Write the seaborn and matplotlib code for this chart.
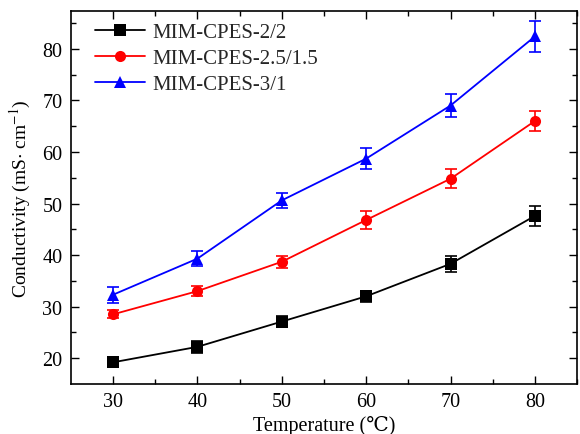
import matplotlib
matplotlib.use("Agg")
import matplotlib.pyplot as plt
import seaborn as sns
import pandas as pd

temps = [30, 40, 50, 60, 70, 80]
names = ["MIM-CPES-2/2", "MIM-CPES-2.5/1.5", "MIM-CPES-3/1"]
cond_22 = [19.2, 22.2, 27.1, 32.0, 38.3, 47.6]
err_22 = [1.0, 1.2, 1.1, 1.1, 1.6, 2.0]
cond_2515 = [28.5, 33.0, 38.7, 46.8, 54.8, 66.0]
err_2515 = [0.8, 1.0, 1.2, 1.8, 1.8, 2.0]
cond_31 = [32.3, 39.3, 50.6, 58.7, 69.0, 82.4]
err_31 = [1.5, 1.5, 1.5, 2.0, 2.2, 3.0]

colors = ["black", "red", "blue"]
markers = ["s", "o", "^"]

sns.set_style("ticks")
plt.rcParams["font.family"] = ["Liberation Serif", "DejaVu Serif"]
plt.rcParams["mathtext.fontset"] = "stix"

fig = plt.figure(figsize=(5.8, 4.35), dpi=100)
ax = fig.add_axes([0.122, 0.115, 0.873, 0.857])

rows = []
for n, vals in zip(names, [cond_22, cond_2515, cond_31]):
    for t, v in zip(temps, vals):
        rows.append({"T": t, "C": v, "S": n})
df = pd.DataFrame(rows)

sns.lineplot(data=df, x="T", y="C", hue="S", style="S", palette=colors,
             markers=markers, dashes=False, markersize=8, markeredgewidth=0,
             linewidth=1.3, ax=ax)

for vals, errs, c in zip([cond_22, cond_2515, cond_31], [err_22, err_2515, err_31], colors):
    ax.errorbar(temps, vals, yerr=errs, fmt="none", ecolor=c, elinewidth=1.2,
                capsize=4, capthick=1.2)

ax.set_xlim(25, 85)
ax.set_ylim(15, 87.3)
ax.set_xticks([30, 40, 50, 60, 70, 80])
ax.set_xticks([35, 45, 55, 65, 75, 85], minor=True)
ax.set_yticks([20, 30, 40, 50, 60, 70, 80])
ax.set_yticks([25, 35, 45, 55, 65, 75, 85], minor=True)
ax.tick_params(which="both", direction="in", top=True, right=True, labelsize=14.5,
               colors="black", width=1)
ax.tick_params(which="major", length=6, pad=6)
ax.tick_params(which="minor", length=3.5)
for s in ax.spines.values():
    s.set_linewidth(1.2)
    s.set_color("black")

ax.set_xlabel("Temperature (\u2103)", fontsize=14.5, color="black", labelpad=3)
ax.set_ylabel("Conductivity (mS$\\cdot$ cm$^{-1}$)", fontsize=14, color="black", labelpad=7)

leg = ax.legend(title=None, loc="upper left", bbox_to_anchor=(0.025, 1.0), frameon=False,
                fontsize=15, handlelength=2.4, handletextpad=0.35, borderaxespad=0.15,
                labelspacing=0.3)

fig.savefig("out.png", dpi=100)
